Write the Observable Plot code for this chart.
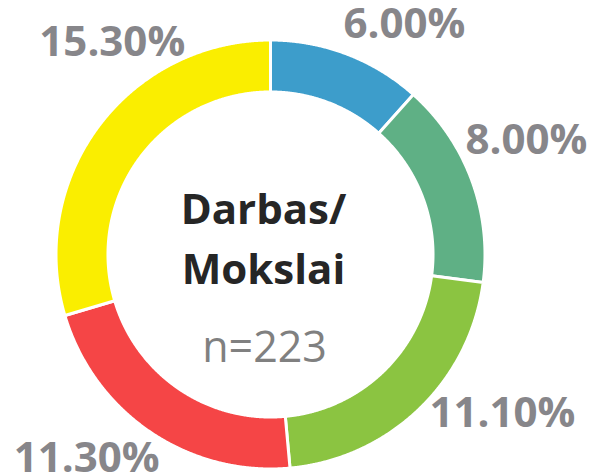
<!DOCTYPE html>
<html><head><meta charset="utf-8">
<script src="https://cdn.jsdelivr.net/npm/d3@7"></script>
<script src="https://cdn.jsdelivr.net/npm/@observablehq/plot@0.6"></script>
<style>body{margin:0;background:#fff}</style>
</head><body><div id="chart"></div>
<script>
// Data
const categories = ["s1", "s2", "s3", "s4", "s5"];
const values = [6.0, 8.0, 11.1, 11.3, 15.3];
const valueLabels = ["6.00%", "8.00%", "11.10%", "11.30%", "15.30%"];
const colors = ["#3d9dcb", "#5fb085", "#8bc441", "#f54546", "#faee00"];
const centerLines = ["Darbas/", "Mokslai"];
const sampleLabel = "n=223";
// Label layout (polar, relative to outer radius)
const labelAngle = [30.2, 66, 124.4, 222, 323.2];
const labelRadius = [1.25, 1.315, 1.32, 1.29, 1.24];

const OUTER = 1.007, INNER = 0.763;
const arcs = d3.pie().sort(null).value(d => d)(values);
const poly = [];
arcs.forEach((a, i) => {
  const key = categories[i];
  const n = Math.max(8, Math.ceil((a.endAngle - a.startAngle) / 0.004));
  const pts = [];
  for (let k = 0; k <= n; k++) {
    const t = a.startAngle + (a.endAngle - a.startAngle) * k / n;
    pts.push({key, x: OUTER * Math.sin(t), y: OUTER * Math.cos(t)});
  }
  for (let k = n; k >= 0; k--) {
    const t = a.startAngle + (a.endAngle - a.startAngle) * k / n;
    pts.push({key, x: INNER * Math.sin(t), y: INNER * Math.cos(t)});
  }
  pts.push({...pts[0]});
  poly.push(...pts);
});

const labels = valueLabels.map((text, i) => {
  const t = labelAngle[i] * Math.PI / 180;
  return {text, x: labelRadius[i] * Math.sin(t), y: labelRadius[i] * Math.cos(t)};
});

const centerText = [
  {text: centerLines[0], x: -0.033, y: 0.207},
  {text: centerLines[1], x: -0.033, y: -0.075}
];
const nText = [{text: sampleLabel, x: -0.028, y: -0.439}];

const R = 213;
const chart = Plot.plot({
  width: 596,
  height: 476,
  margin: 0,
  x: {domain: [-270 / R, 326 / R], axis: null},
  y: {domain: [-222 / R, 254 / R], axis: null},
  color: {domain: categories, range: colors, type: "ordinal"},
  style: {background: "#fff"},
  marks: [
    Plot.line(poly, {x: "x", y: "y", z: "key", fill: "key", stroke: "white", strokeWidth: 3, curve: "linear"}),
    Plot.text(labels, {x: "x", y: "y", text: "text", fontFamily: "Open Sans", fontWeight: "bold", fontSize: 42, fill: "#87868a", textAnchor: "middle", lineAnchor: "middle"}),
    Plot.text(centerText, {x: "x", y: "y", text: "text", fontFamily: "Open Sans", fontWeight: "bold", fontSize: 42, fill: "#262626", textAnchor: "middle", lineAnchor: "middle"}),
    Plot.text(nText, {x: "x", y: "y", text: "text", fontFamily: "Open Sans", fontWeight: "normal", fontSize: 43, fill: "#808080", textAnchor: "middle", lineAnchor: "middle"})
  ]
});
document.getElementById("chart").appendChild(chart);
</script>
</body></html>
